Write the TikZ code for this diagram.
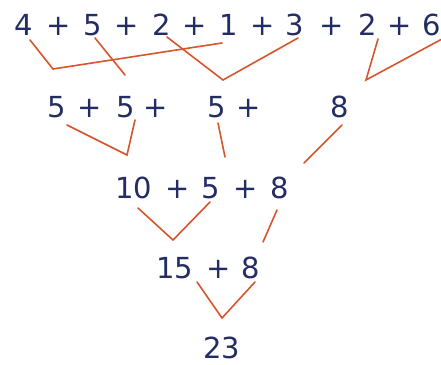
\documentclass[tikz,border=0pt]{standalone}
\usepackage{fontspec}
\setmainfont{DejaVu Sans}
\usepackage{tikz}
\usetikzlibrary{calc}
\definecolor{sumnavy}{RGB}{35,45,100}
\definecolor{sumorange}{RGB}{215,85,45}
\tikzset{
  snum/.style ={inner sep=0pt, outer sep=0pt, text height=20pt, text depth=0pt,
                text=sumnavy, font=\fontsize{29}{33}\selectfont},
  splus/.style={snum},
  sline/.style={line width=1.6pt, sumorange, line cap=round, line join=miter},
}

\begin{document}
\begin{tikzpicture}[x=1pt, y=-1pt]
  \useasboundingbox (0,0) rectangle (441,364);
  % row 1
  \node[snum]  (a1) at (24,25)  {4};
  \node[splus] (p1) at (59,25)  {+};
  \node[snum]  (a2) at (93,25)  {5};
  \node[splus] (p2) at (127,25) {+};
  \node[snum]  (a3) at (162,25) {2};
  \node[splus] (p3) at (195,25) {+};
  \node[snum]  (a4) at (229,25) {1};
  \node[splus] (p4) at (263,25) {+};
  \node[snum]  (a5) at (295,25) {3};
  \node[splus] (p5) at (332,25) {+};
  \node[snum]  (a6) at (368,25) {2};
  \node[splus] (p6) at (400,25) {+};
  \node[snum]  (a7) at (432,25) {6};
  % row 2
  \node[snum]  (b1) at (57,107)  {5};
  \node[splus] (q1) at (90,107)  {+};
  \node[snum]  (b2) at (126,107) {5};
  \node[splus] (q2) at (156,107) {+};
  \node[snum]  (b3) at (217,107) {5};
  \node[splus] (q3) at (249,107) {+};
  \node[snum]  (b4) at (340,107) {8};
  % row 3
  \node[snum]  (c1) at (134,188) {10};
  \node[splus] (r1) at (178,188) {+};
  \node[snum]  (c2) at (211,188) {5};
  \node[splus] (r2) at (246,188) {+};
  \node[snum]  (c3) at (280,188) {8};
  % row 4
  \node[snum]  (d1) at (175,268) {15};
  \node[splus] (s1) at (219,268) {+};
  \node[snum]  (d2) at (251,268) {8};
  % row 5
  \node[snum]  (e1) at (222,348) {23};
  % bends and free ends
  \coordinate (k1) at (53,69);
  \coordinate (k2) at (125,75);
  \coordinate (k3) at (223,80);
  \coordinate (k4) at (366,80);
  \coordinate (k5) at (127,155);
  \coordinate (k6) at (225,157);
  \coordinate (k7) at (304,163);
  \coordinate (k8) at (173,240);
  \coordinate (k9) at (263,242);
  \coordinate (k10) at (222,318);
  % connectors
  \draw[sline] ([xshift=6pt,yshift=-5pt]a1.south) -- (k1) -- ([xshift=-7pt,yshift=-8pt]a4.south);
  \draw[sline] ([xshift=2pt,yshift=-3pt]a2.south) -- (k2);
  \draw[sline] ([xshift=5pt,yshift=-2pt]a3.south) -- (k3) -- ([xshift=3pt,yshift=-3pt]a5.south);
  \draw[sline] ([xshift=10pt,yshift=-4pt]a6.south) -- (k4) -- ([xshift=10pt,yshift=-4pt]a7.south);
  \draw[sline] ([xshift=10pt,yshift=-8pt]b1.south) -- (k5) -- ([xshift=9pt,yshift=-3pt]b2.south);
  \draw[sline] ([xshift=1pt,yshift=-6pt]b3.south) -- (k6);
  \draw[sline] ([xshift=2pt,yshift=-8pt]b4.south) -- (k7);
  \draw[sline] ([xshift=4pt,yshift=-10pt]c1.south) -- (k8) -- ([xshift=-1pt,yshift=-4pt]c2.south);
  \draw[sline] ([xshift=-3pt,yshift=-12pt]c3.south) -- (k9);
  \draw[sline] ([xshift=22pt,yshift=-4pt]d1.south) -- (k10) -- ([xshift=4pt,yshift=-4pt]d2.south);
\end{tikzpicture}
\end{document}
